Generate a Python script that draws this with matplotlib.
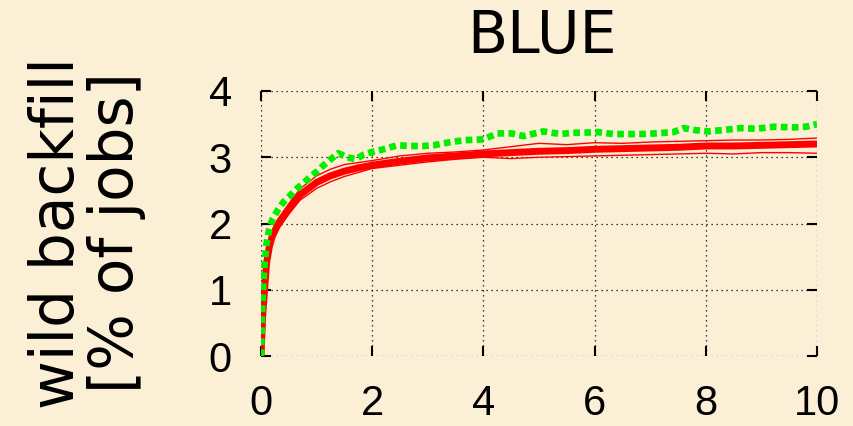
import matplotlib
matplotlib.use("Agg")
import matplotlib.pyplot as plt

# ---- data ----
title = "BLUE"
ylabel_text = "wild backfill\n[% of jobs]"
xticks = [0, 2, 4, 6, 8, 10]
yticks = [0, 1, 2, 3, 4]

red_x = [0, 0.03, 0.06, 0.1, 0.15, 0.2, 0.3, 0.4, 0.5, 0.7, 1.0, 1.25, 1.5, 1.75,
         2.0, 2.5, 3.0, 3.5, 4.0, 4.5, 5.0, 5.5, 6.0, 6.5, 7.0, 7.5, 8.0, 8.5,
         9.0, 9.5, 10.0]
red_mean = [0, 0.6, 0.95, 1.4, 1.65, 1.8, 1.98, 2.1, 2.22, 2.43, 2.62, 2.72, 2.79, 2.84,
            2.88, 2.94, 2.99, 3.02, 3.05, 3.07, 3.09, 3.10, 3.12, 3.13, 3.14, 3.15, 3.17,
            3.17, 3.18, 3.19, 3.20]
red_upper = [0, 0.63, 1.0, 1.46, 1.72, 1.88, 2.06, 2.18, 2.3, 2.52, 2.72, 2.82, 2.89, 2.92,
             2.95, 3.02, 3.06, 3.08, 3.11, 3.16, 3.21, 3.19, 3.22, 3.21, 3.23, 3.24, 3.25,
             3.26, 3.26, 3.27, 3.29]
red_lower = [0, 0.57, 0.9, 1.34, 1.58, 1.72, 1.9, 2.02, 2.14, 2.35, 2.53, 2.63, 2.71, 2.77,
             2.83, 2.88, 2.93, 2.97, 3.00, 2.98, 3.00, 3.01, 3.02, 3.03, 3.04, 3.05, 3.06,
             3.05, 3.07, 3.07, 3.06]

green_x = [0, 0.03, 0.06, 0.1, 0.15, 0.2, 0.3, 0.4, 0.5, 0.65, 0.75, 0.88, 1.0, 1.1,
           1.24, 1.39, 1.55, 1.7, 1.85, 2.0, 2.2, 2.45, 2.7, 2.92, 3.1, 3.28, 3.5, 3.71,
           4.0, 4.25, 4.5, 4.72, 5.08, 5.39, 5.6, 5.8, 6.05, 6.34, 6.6, 6.83, 7.1, 7.42,
           7.6, 7.8, 8.04, 8.3, 8.63, 8.9, 9.23, 9.59, 9.8, 10.0]
green_y = [0, 0.9, 1.35, 1.7, 1.92, 2.05, 2.2, 2.32, 2.4, 2.53, 2.6, 2.7, 2.78, 2.86,
           2.96, 3.06, 3.0, 2.97, 3.04, 3.08, 3.12, 3.18, 3.17, 3.17, 3.18, 3.21, 3.24, 3.26,
           3.27, 3.36, 3.36, 3.32, 3.39, 3.35, 3.37, 3.37, 3.38, 3.35, 3.35, 3.35, 3.36, 3.38,
           3.44, 3.41, 3.39, 3.41, 3.44, 3.43, 3.46, 3.45, 3.46, 3.5]

bg = "#fbefd6"

fig = plt.figure(figsize=(8.54, 4.26), dpi=100, facecolor=bg)
ax = fig.add_axes([261/854, 1-356/426, (817-261)/854, (356-91)/426])
ax.set_facecolor(bg)

ax.plot(red_x, red_upper, color="#ff0000", lw=1.0)
ax.plot(red_x, red_lower, color="#ff0000", lw=1.0)
ax.plot(red_x, red_mean, color="#ff0000", lw=5.0, solid_capstyle="butt")
ax.plot(green_x, green_y, color="#00ee00", lw=4.8, linestyle=(0, (1, 0.65)),
        dash_capstyle="butt")

ax.set_xlim(0, 10)
ax.set_ylim(0, 4)
ax.set_xticks(xticks)
ax.set_yticks(yticks)
for s in ax.spines.values():
    s.set_visible(False)
ax.grid(True, color="black", linestyle=(0, (1, 3)), lw=0.9)
ax.tick_params(direction="in", length=7, width=1.5, top=True, right=True,
               labelsize=30, colors="black")
ax.tick_params(axis="y", pad=21)
ax.tick_params(axis="x", pad=20)
for lbl in ax.get_xticklabels() + ax.get_yticklabels():
    lbl.set_fontfamily("Liberation Sans")

fig.text(542/854, 1-37/426, title, ha="center", va="center", fontsize=42,
         family="DejaVu Sans")
fig.text(87/854, 1-233/426, ylabel_text, ha="center", va="center", rotation=90,
         fontsize=43, family="DejaVu Sans", multialignment="center", linespacing=1.0)

fig.savefig("out.png", dpi=100, facecolor=bg)
